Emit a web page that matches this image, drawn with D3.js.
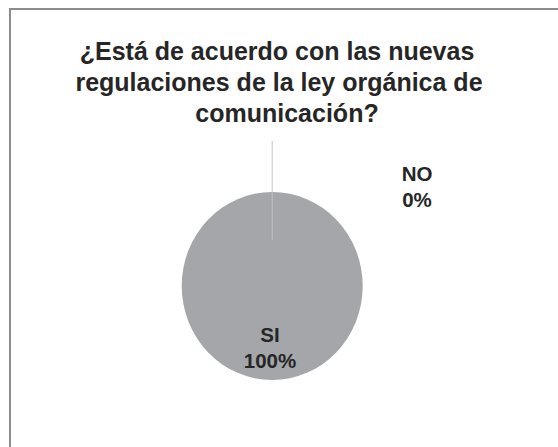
<!DOCTYPE html>
<html>
<head>
<meta charset="utf-8">
<script src="https://cdn.jsdelivr.net/npm/d3@7"></script>
<style>
  body { margin: 0; background: #fff; }
  text { font-family: "Liberation Sans", Arial, sans-serif; font-weight: bold; fill: #262626; }
</style>
</head>
<body>
<div id="chart"></div>
<script>
var categories = ["NO", "SI"];
var values = [0, 100];
var pctLabels = ["0%", "100%"];
var titleLines = ["¿Está de acuerdo con las nuevas", "regulaciones de la ley orgánica de", "comunicación?"];

var width = 558, height = 447;
var svg = d3.select("#chart").append("svg")
    .attr("width", width)
    .attr("height", height);

// frame (runs off the right and bottom edges)
svg.append("rect")
    .attr("x", 10).attr("y", 9)
    .attr("width", 600).attr("height", 500)
    .style("fill", "#fff")
    .style("stroke", "#8c8c8c")
    .style("stroke-width", 2);

// title
var titleX = [277, 279, 287];
svg.append("text")
    .attr("text-anchor", "middle")
    .style("font-size", "25px")
    .selectAll("tspan").data(titleLines).enter().append("tspan")
    .attr("x", function(d, i) { return titleX[i]; })
    .attr("y", function(d, i) { return 60 + i * 31; })
    .text(function(d) { return d; });

// pie (slightly taller than wide)
var cx = 272.2, cy = 286, rx = 90.5, ry = 94;
var pie = d3.pie().sort(null).value(function(d) { return d; });
var arcs = pie(values);
arcs.forEach(function(a, i) { a.cat = categories[i]; a.pct = pctLabels[i]; });
var arc = d3.arc().innerRadius(0).outerRadius(rx);

var pg = svg.append("g")
    .attr("transform", "translate(" + cx + "," + cy + ") scale(1," + (ry / rx) + ")");
pg.selectAll("path").data(arcs).enter().append("path")
    .attr("d", arc)
    .style("fill", function(d, i) { return i === 1 ? "#a5a6aa" : "#595959"; })
    .style("stroke", "none");

// leader line for the 0% slice
svg.append("line")
    .attr("x1", cx).attr("y1", 141)
    .attr("x2", cx).attr("y2", 240)
    .style("stroke", "#c4c4c6")
    .style("stroke-width", 1);

// data labels
var labelPos = { "NO": [417, 181], "SI": [270, 342] };
var lg = svg.append("g");
arcs.forEach(function(d) {
    var p = labelPos[d.cat];
    var t = lg.append("text")
        .attr("text-anchor", "middle")
        .style("font-size", "20.5px");
    t.append("tspan").attr("x", p[0]).attr("y", p[1]).text(d.cat);
    t.append("tspan").attr("x", p[0]).attr("y", p[1] + 26).text(d.pct);
});
</script>
</body>
</html>
